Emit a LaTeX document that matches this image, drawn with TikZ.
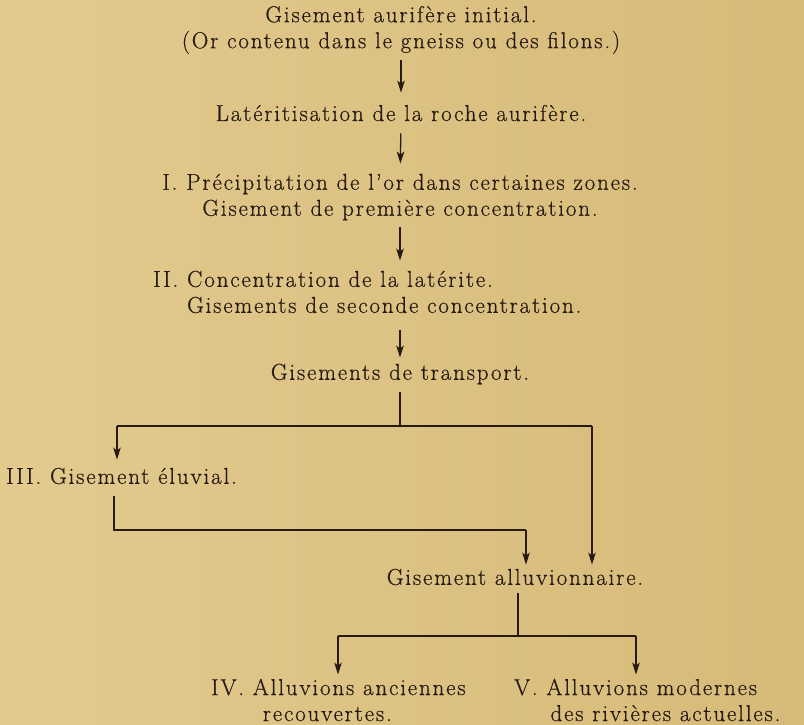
\documentclass[tikz,border=0pt]{standalone}
\usepackage{fontspec}
\setmainfont{Latin Modern Roman}[LetterSpace=8,FakeBold=0.5]
\usetikzlibrary{arrows.meta,calc}
\definecolor{paperL}{RGB}{226,202,142}
\definecolor{paperR}{RGB}{214,186,120}
\definecolor{ink}{RGB}{38,26,18}
\tikzset{
  stage/.style={inner sep=0pt,font=\fontsize{23}{26}\selectfont,text=ink},
  wire/.style={draw=ink,line width=1.3pt},
  arr/.style={wire,-{Stealth[length=12pt,width=7.5pt,inset=3pt]},shorten <=7pt,shorten >=10pt},
  drop/.style={wire,-{Stealth[length=12pt,width=7.5pt,inset=3pt]},shorten >=4pt},
}

\begin{document}
\begin{tikzpicture}[x=1pt,y=-1pt]
  \shade[left color=paperL,right color=paperR] (0,0) rectangle (804,724);
  \useasboundingbox (0,0) rectangle (804,724);
  % stages
  \node[stage,align=center] (init) at (401,30) {Gisement aurifère initial.\\(Or contenu dans le gneiss ou des filons.)};
  \node[stage] (lat) at (401,113) {Latéritisation de la roche aurifère.};
  \node[stage,align=center] (prec) at (400,197) {I.\ Précipitation de l'or dans certaines zones.\\Gisement de première concentration.};
  \node[stage,align=left,anchor=west] (conc) at (153,292) {II.\ Concentration de la latérite.\\\hphantom{II.\ }Gisements de seconde concentration.};
  \node[stage] (transp) at (400,374) {Gisements de transport.};
  \node[stage,anchor=west] (eluv) at (6,476) {III.\ Gisement éluvial.};
  \node[stage] (alluv) at (515,577) {Gisement alluvionnaire.};
  \node[stage,align=left,anchor=west] (anc) at (211,700) {IV.\ Alluvions anciennes\\\hphantom{IV.\ }\hspace{10pt}recouvertes.};
  \node[stage,align=left,anchor=west] (mod) at (514,700) {V.\ Alluvions modernes\\\hphantom{V.\ }\hspace{4pt}des rivières actuelles.};
  % main line
  \draw[arr,shorten <=6pt,shorten >=12pt] (init) -- (lat);
  \draw[arr,shorten <=12pt] (lat) -- (prec);
  \draw[arr] (prec.south) -- (prec.south |- conc.north);
  \draw[arr,shorten <=17pt,shorten >=6pt] (transp.north |- conc.south) -- (transp.north);
  % branching of the transport deposits
  \coordinate (tL) at (117,426);
  \coordinate (tR) at (592,426);
  \draw[wire,shorten <=8pt] (transp.south) -- (transp.south |- tL);
  \draw[wire] (tL) -- (tR);
  \draw[drop,shorten >=8pt] (tL) -- (tL |- eluv.north);
  \draw[drop] (tR) -- (tR |- alluv.north);
  \coordinate (eL) at (114,530);
  \coordinate (eR) at (526,530);
  \draw[wire,shorten <=12pt] (eL |- eluv.south) -- (eL) -- (eR);
  \draw[drop] (eR) -- (eR |- alluv.north);
  % alluvial deposits
  \coordinate (aM) at (518,636);
  \coordinate (aL) at (338,636);
  \coordinate (aR) at (636,636);
  \draw[wire,shorten <=8pt] (aM |- alluv.south) -- (aM);
  \draw[wire] (aL) -- (aR);
  \draw[drop] (aL) -- (aL |- anc.north);
  \draw[drop] (aR) -- (aR |- mod.north);
\end{tikzpicture}
\end{document}
